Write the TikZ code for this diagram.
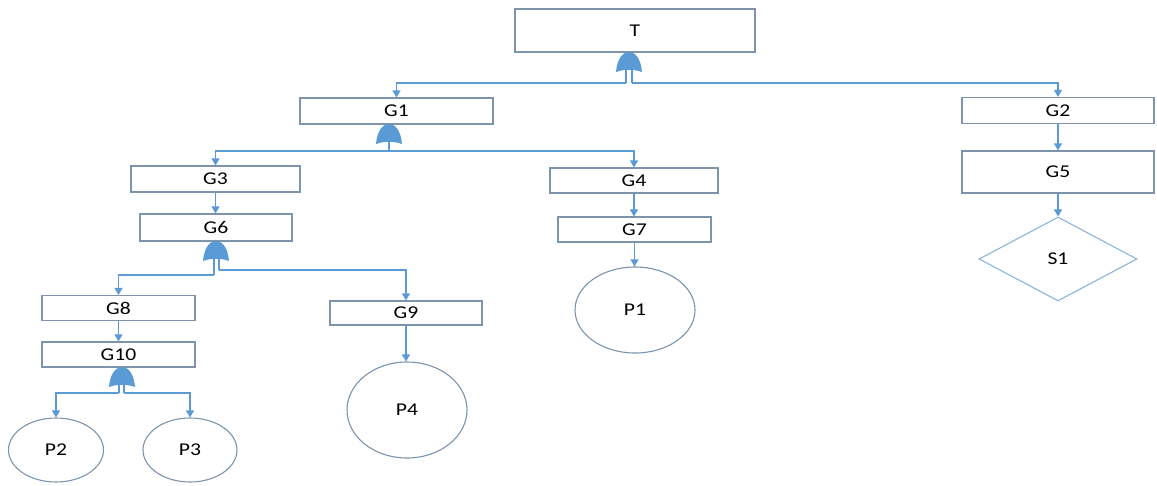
\documentclass[tikz,border=0pt]{standalone}
\usepackage{fontspec}
\setmainfont{Carlito}[FakeStretch=1.2]
\usetikzlibrary{shapes.geometric,arrows.meta,calc}
\definecolor{boxc}{RGB}{125,148,172}
\definecolor{linec}{RGB}{91,155,213}
\definecolor{diac}{RGB}{140,180,220}
\tikzset{
  box/.style={draw=boxc, line width=1.2pt, inner sep=0pt, rectangle},
  event/.style={draw=boxc, line width=1.1pt, inner sep=0pt, ellipse},
  undev/.style={draw=diac, line width=1.1pt, inner sep=0pt, diamond},
  link/.style={draw=linec, line width=1.2pt},
  arr/.style={link, -{Triangle[width=8pt,length=7pt]}},
  andgate/.pic={\fill[linec] (-13,20) .. controls (-12,8) and (-7,0) .. (0,0)
      .. controls (7,0) and (12,8) .. (13,20)
      .. controls (5,17) and (-5,17) .. cycle;}
}
\begin{document}
\begin{tikzpicture}[x=1pt,y=-1pt,font=\fontsize{18}{20}\selectfont]
\useasboundingbox (0,0) rectangle (1157,485);
\fill[white] (0,0) rectangle (1157,485);
% nodes
\node[box, minimum width=240pt, minimum height=43pt] (T) at (635,30.5) {T};
\node[box, minimum width=193pt, minimum height=26pt] (G1) at (396.5,111) {G1};
\node[box, minimum width=192pt, minimum height=26pt] (G2) at (1058,110.5) {G2};
\node[box, minimum width=192pt, minimum height=42pt] (G5) at (1058,172) {G5};
\node[undev, minimum width=158pt, minimum height=84pt] (S1) at (1058,259) {S1};
\node[box, minimum width=169pt, minimum height=26pt] (G3) at (215.5,179) {G3};
\node[box, minimum width=168pt, minimum height=25pt] (G4) at (634,180.5) {G4};
\node[box, minimum width=152pt, minimum height=27pt] (G6) at (216,227.5) {G6};
\node[box, minimum width=153pt, minimum height=25pt] (G7) at (634.5,229.5) {G7};
\node[event, minimum width=120pt, minimum height=86pt] (P1) at (635,310) {P1};
\node[box, minimum width=153pt, minimum height=25pt] (G8) at (118.5,308) {G8};
\node[box, minimum width=152pt, minimum height=24pt] (G9) at (406,313) {G9};
\node[box, minimum width=153pt, minimum height=25pt] (G10) at (118.5,354.5) {G10};
\node[event, minimum width=120pt, minimum height=96pt] (P4) at (407,410) {P4};
\node[event, minimum width=95pt, minimum height=64pt] (P2) at (56,450) {P2};
\node[event, minimum width=94pt, minimum height=64pt] (P3) at (190,450) {P3};
% gates
\coordinate (gT) at (629,52);
\coordinate (gG1) at (389,124);
\coordinate (gG6) at (216,241);
\coordinate (gG10) at (122,367);
\pic at (gT) {andgate};
\pic at (gG1) {andgate};
\pic at (gG6) {andgate};
\pic at (gG10) {andgate};
% junctions
\coordinate (jT) at (629,83);
\coordinate (jG1) at (389,151);
\coordinate (jG6L) at (214,275);
\coordinate (jG6R) at (219,270);
\coordinate (jG10L) at (119,393);
\coordinate (jG10R) at (124,393);
% stems
\draw[link] ($(gT)+(-3,18)$) -- ($(jT)+(-3,0)$);
\draw[link] ($(gT)+(3,18)$) -- ($(jT)+(3,0)$);
\draw[link] ($(gG1)+(0,18)$) -- (jG1);
\draw[link] ($(gG6)+(-2,18)$) -- (jG6L);
\draw[link] ($(gG6)+(3,18)$) -- (jG6R);
\draw[link] ($(gG10)+(-3,18)$) -- (jG10L);
\draw[link] ($(gG10)+(2,18)$) -- (jG10R);
% connectors
\draw[arr] ($(jT)+(-3,0)$) -| (G1.north);
\draw[arr] ($(jT)+(3,0)$) -| (G2.north);
\draw[arr] (G2.south) -- (G5.north);
\draw[arr] (G5.south) -- (S1.north);
\draw[arr] (jG1) -| (G3.north);
\draw[arr] (jG1) -| (G4.north);
\draw[arr] (G3.south) -- (G3.south |- G6.north);
\draw[arr] (G4.south) -- (G4.south |- G7.north);
\draw[arr] (G7.south) -- (G7.south |- P1.north);
\draw[arr] (jG6L) -| (G8.north);
\draw[arr] (jG6R) -| (G9.north);
\draw[arr] (G8.south) -- (G10.north);
\draw[arr] (G9.south) -- (G9.south |- P4.north);
\draw[arr] (jG10L) -| (P2.north);
\draw[arr] (jG10R) -| (P3.north);
\end{tikzpicture}
\end{document}
